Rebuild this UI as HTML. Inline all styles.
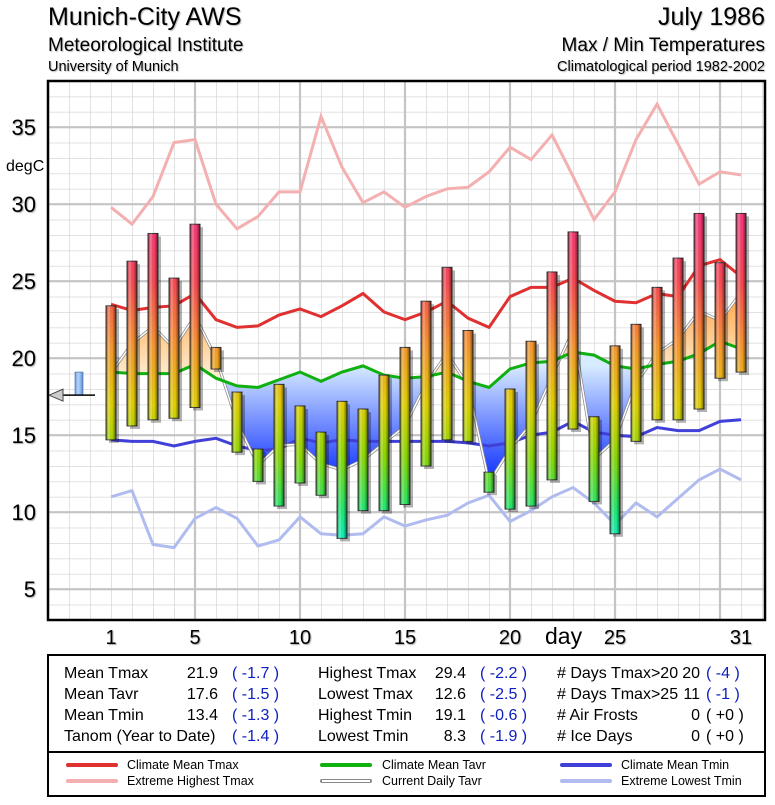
<!DOCTYPE html>
<html><head><meta charset="utf-8">
<style>
html,body{margin:0;padding:0;background:#fff;}
body{width:775px;height:800px;overflow:hidden;font-family:"Liberation Sans",sans-serif;}
svg text{font-family:"Liberation Sans",sans-serif;}
</style></head>
<body>
<svg id="chart" width="775" height="800" viewBox="0 0 775 800" xmlns="http://www.w3.org/2000/svg">
<defs>
  <linearGradient id="barGrad" gradientUnits="userSpaceOnUse" x1="0" y1="190" x2="0" y2="560">
    <stop offset="0" stop-color="#ff2f8f"/>
    <stop offset="0.25" stop-color="#ff4a55"/>
    <stop offset="0.42" stop-color="#ff9a30"/>
    <stop offset="0.58" stop-color="#e8d800"/>
    <stop offset="0.72" stop-color="#90e000"/>
    <stop offset="0.86" stop-color="#20f070"/>
    <stop offset="1" stop-color="#00ffff"/>
  </linearGradient>
  <linearGradient id="barShade" x1="0" y1="0" x2="1" y2="0">
    <stop offset="0" stop-color="#000" stop-opacity="0.45"/>
    <stop offset="0.3" stop-color="#fff" stop-opacity="0.3"/>
    <stop offset="0.6" stop-color="#000" stop-opacity="0"/>
    <stop offset="1" stop-color="#000" stop-opacity="0.55"/>
  </linearGradient>
  <linearGradient id="warmGrad" gradientUnits="userSpaceOnUse" x1="0" y1="280" x2="0" y2="380">
    <stop offset="0" stop-color="#ff9a30"/>
    <stop offset="1" stop-color="#fff0d8"/>
  </linearGradient>
  <linearGradient id="coolGrad" gradientUnits="userSpaceOnUse" x1="0" y1="365" x2="0" y2="470">
    <stop offset="0" stop-color="#d8ecff"/>
    <stop offset="1" stop-color="#1f3fff"/>
  </linearGradient>
  <linearGradient id="blueBar" x1="0" y1="0" x2="1" y2="0">
    <stop offset="0" stop-color="#6f9fe0"/>
    <stop offset="0.4" stop-color="#b8d4ff"/>
    <stop offset="1" stop-color="#5f8fd0"/>
  </linearGradient>
  <pattern id="gridPat" patternUnits="userSpaceOnUse" x="48" y="620" width="21.0018" height="15.4">
    <line x1="0" y1="0" x2="0" y2="15.4" stroke="#d8d8d8" stroke-width="1.5"/>
    <line x1="0" y1="0" x2="21.0018" y2="0" stroke="#d8d8d8" stroke-width="1.5"/>
  </pattern>
  <clipPath id="plotClip"><rect x="48" y="81" width="717" height="539"/></clipPath>
  <clipPath id="aboveClip"><polygon id="aboveClipPoly" points="111,81 111,372.1 132,373.6 153,373.6 174,373.6 195,364.4 216,378.2 237,385.9 258,387.5 279,379.8 300,372.1 321,381.3 342,372.1 363,365.9 384,375.1 405,378.2 426,376.7 447,372.1 468,381.3 489,387.5 510,369.0 531,362.8 552,361.3 573,352.0 594,355.1 615,365.9 636,369.0 657,364.4 678,361.3 699,353.6 720,341.3 741,349.0 741,81"/></clipPath>
  <clipPath id="belowClip"><polygon id="belowClipPoly" points="111,620 111,372.1 132,373.6 153,373.6 174,373.6 195,364.4 216,378.2 237,385.9 258,387.5 279,379.8 300,372.1 321,381.3 342,372.1 363,365.9 384,375.1 405,378.2 426,376.7 447,372.1 468,381.3 489,387.5 510,369.0 531,362.8 552,361.3 573,352.0 594,355.1 615,365.9 636,369.0 657,364.4 678,361.3 699,353.6 720,341.3 741,349.0 741,620"/></clipPath>
</defs>

<g style="text-shadow:1px 1px 1px #bbb">
  <text x="48" y="25" font-size="25">Munich-City AWS</text>
  <text x="48" y="51" font-size="19">Meteorological Institute</text>
  <text x="48" y="71" font-size="14.5">University of Munich</text>
  <text x="765" y="25" font-size="25" text-anchor="end">July 1986</text>
  <text x="765" y="51" font-size="19" text-anchor="end">Max / Min Temperatures</text>
  <text x="765" y="71" font-size="14.5" text-anchor="end">Climatological period 1982-2002</text>
</g>

<rect x="48" y="81" width="717" height="539" fill="#fff"/>
<g id="grid">
  <rect x="48" y="81" width="717" height="539" fill="url(#gridPat)"/>
  <g stroke="#c4c4c4" stroke-width="2.2">
    <line x1="195" y1="81" x2="195" y2="620"/><line x1="300" y1="81" x2="300" y2="620"/><line x1="405" y1="81" x2="405" y2="620"/>
    <line x1="510" y1="81" x2="510" y2="620"/><line x1="615" y1="81" x2="615" y2="620"/><line x1="720" y1="81" x2="720" y2="620"/>
    <line x1="48" y1="589.2" x2="765" y2="589.2"/><line x1="48" y1="512.2" x2="765" y2="512.2"/><line x1="48" y1="435.2" x2="765" y2="435.2"/>
    <line x1="48" y1="358.2" x2="765" y2="358.2"/><line x1="48" y1="281.2" x2="765" y2="281.2"/><line x1="48" y1="204.2" x2="765" y2="204.2"/>
    <line x1="48" y1="127.2" x2="765" y2="127.2"/>
  </g>
</g>

<g id="marks" clip-path="url(#plotClip)">
  <polygon clip-path="url(#aboveClip)" fill="url(#warmGrad)" points="111,372.8 132,343.6 153,326.7 174,348.2 195,315.9 216,358.2 237,422.1 258,465.3 279,445.2 300,444.4 321,463.7 342,469.9 363,459.9 384,442.9 405,426.0 426,383.6 447,353.6 468,386.0 489,482.2 510,449.1 531,423.7 552,376.0 573,330.5 594,459.1 615,439.9 636,382.9 657,353.6 678,339.0 699,311.3 720,320.5 741,292.8 741,349.0 720,341.3 699,353.6 678,361.3 657,364.4 636,369.0 615,365.9 594,355.1 573,352.0 552,361.3 531,362.8 510,369.0 489,387.5 468,381.3 447,372.1 426,376.7 405,378.2 384,375.1 363,365.9 342,372.1 321,381.3 300,372.1 279,379.8 258,387.5 237,385.9 216,378.2 195,364.4 174,373.6 153,373.6 132,373.6 111,372.1"/>
  <polygon clip-path="url(#belowClip)" fill="url(#coolGrad)" points="111,372.8 132,343.6 153,326.7 174,348.2 195,315.9 216,358.2 237,422.1 258,465.3 279,445.2 300,444.4 321,463.7 342,469.9 363,459.9 384,442.9 405,426.0 426,383.6 447,353.6 468,386.0 489,482.2 510,449.1 531,423.7 552,376.0 573,330.5 594,459.1 615,439.9 636,382.9 657,353.6 678,339.0 699,311.3 720,320.5 741,292.8 741,349.0 720,341.3 699,353.6 678,361.3 657,364.4 636,369.0 615,365.9 594,355.1 573,352.0 552,361.3 531,362.8 510,369.0 489,387.5 468,381.3 447,372.1 426,376.7 405,378.2 384,375.1 363,365.9 342,372.1 321,381.3 300,372.1 279,379.8 258,387.5 237,385.9 216,378.2 195,364.4 174,373.6 153,373.6 132,373.6 111,372.1"/>
  <polyline fill="none" stroke="#f4b0b0" stroke-width="3" points="111,207.3 132,224.2 153,196.5 174,142.6 195,139.5 216,204.2 237,228.8 258,216.5 279,191.9 300,191.9 321,116.4 342,167.2 363,202.7 384,191.9 405,207.3 426,196.5 447,188.8 468,187.3 489,171.9 510,147.2 531,159.5 552,134.9 573,176.5 594,219.6 615,191.9 636,139.5 657,104.1 678,144.1 699,184.2 720,171.9 741,174.9"/>
  <polyline fill="none" stroke="#b0bcf0" stroke-width="3" points="111,496.8 132,490.6 153,544.5 174,547.6 195,518.4 216,507.6 237,518.4 258,546.1 279,539.9 300,516.8 321,533.8 342,535.3 363,533.8 384,516.8 405,526.1 426,519.9 447,515.3 468,503.0 489,495.3 510,521.4 531,510.7 552,496.8 573,487.6 594,503.0 615,524.5 636,503.0 657,516.8 678,498.3 699,479.9 720,469.1 741,479.9"/>
  <polyline fill="none" stroke="#4040d8" stroke-width="3" points="111,439.8 132,441.4 153,441.4 174,446.0 195,441.4 216,438.3 237,446.0 258,450.6 279,449.1 300,438.3 321,442.9 342,439.8 363,441.4 384,441.4 405,441.4 426,441.4 447,441.4 468,442.9 489,446.0 510,442.9 531,435.2 552,432.1 573,421.3 594,432.1 615,435.2 636,436.7 657,427.5 678,430.6 699,430.6 720,421.3 741,419.8"/>
  <polyline fill="none" stroke="#888" stroke-width="3" points="111,372.8 132,343.6 153,326.7 174,348.2 195,315.9 216,358.2 237,422.1 258,465.3 279,445.2 300,444.4 321,463.7 342,469.9 363,459.9 384,442.9 405,426.0 426,383.6 447,353.6 468,386.0 489,482.2 510,449.1 531,423.7 552,376.0 573,330.5 594,459.1 615,439.9 636,382.9 657,353.6 678,339.0 699,311.3 720,320.5 741,292.8"/>
  <polyline fill="none" stroke="#fff" stroke-width="1.5" points="111,372.8 132,343.6 153,326.7 174,348.2 195,315.9 216,358.2 237,422.1 258,465.3 279,445.2 300,444.4 321,463.7 342,469.9 363,459.9 384,442.9 405,426.0 426,383.6 447,353.6 468,386.0 489,482.2 510,449.1 531,423.7 552,376.0 573,330.5 594,459.1 615,439.9 636,382.9 657,353.6 678,339.0 699,311.3 720,320.5 741,292.8"/>
  <polyline fill="none" stroke="#10b010" stroke-width="3" points="111,372.1 132,373.6 153,373.6 174,373.6 195,364.4 216,378.2 237,385.9 258,387.5 279,379.8 300,372.1 321,381.3 342,372.1 363,365.9 384,375.1 405,378.2 426,376.7 447,372.1 468,381.3 489,387.5 510,369.0 531,362.8 552,361.3 573,352.0 594,355.1 615,365.9 636,369.0 657,364.4 678,361.3 699,353.6 720,341.3 741,349.0"/>
  <polyline fill="none" stroke="#e03030" stroke-width="3" points="111,304.3 132,310.5 153,307.4 174,305.8 195,293.5 216,319.7 237,327.4 258,325.9 279,315.0 300,308.9 321,316.6 342,305.8 363,293.5 384,312.0 405,319.7 426,312.0 447,301.2 468,318.2 489,327.4 510,296.6 531,287.4 552,287.4 573,278.1 594,290.4 615,301.2 636,302.8 657,293.5 678,296.6 699,265.8 720,259.6 741,276.6"/>
  <g id="staticBars"></g>
  <rect x="75" y="372.1" width="8" height="23.1" fill="url(#blueBar)" stroke="#4060a0" stroke-width="0.6"/>
  <line x1="62" x2="95" y1="395.2" y2="395.2" stroke="#000" stroke-width="1.5"/>
  <polygon points="49,395.2 63,389.2 63,401.2" fill="#ccc" stroke="#444" stroke-width="1"/>
</g>
<rect x="48" y="81" width="717" height="539" fill="none" stroke="#000" stroke-width="2.5"/>
<g id="axes" style="text-shadow:1px 1px 1px #aaa" font-size="22">
  <text x="36" y="597.2" text-anchor="end">5</text>
  <text x="36" y="520.2" text-anchor="end">10</text>
  <text x="36" y="443.2" text-anchor="end">15</text>
  <text x="36" y="366.2" text-anchor="end">20</text>
  <text x="36" y="289.2" text-anchor="end">25</text>
  <text x="36" y="212.2" text-anchor="end">30</text>
  <text x="36" y="135.2" text-anchor="end">35</text>
  <text x="111" y="644" font-size="20" text-anchor="middle">1</text>
  <text x="195" y="644" font-size="20" text-anchor="middle">5</text>
  <text x="300" y="644" font-size="20" text-anchor="middle">10</text>
  <text x="405" y="644" font-size="20" text-anchor="middle">15</text>
  <text x="510" y="644" font-size="20" text-anchor="middle">20</text>
  <text x="615" y="644" font-size="20" text-anchor="middle">25</text>
  <text x="741" y="644" font-size="20" text-anchor="middle">31</text>
</g>
<text x="6" y="171" font-size="16">degC</text>
<text x="545" y="644" font-size="23">day</text>

<g font-size="16">
  <rect x="48" y="655" width="717" height="141" fill="#fff" stroke="#000" stroke-width="2"/>
  <line x1="48" y1="752" x2="765" y2="752" stroke="#000" stroke-width="2"/>
  <g>
    <text x="64" y="678">Mean Tmax</text><text x="218" y="678" text-anchor="end">21.9</text><text x="232" y="678" fill="#1020c0">( -1.7 )</text>
    <text x="64" y="699">Mean Tavr</text><text x="218" y="699" text-anchor="end">17.6</text><text x="232" y="699" fill="#1020c0">( -1.5 )</text>
    <text x="64" y="720">Mean Tmin</text><text x="218" y="720" text-anchor="end">13.4</text><text x="232" y="720" fill="#1020c0">( -1.3 )</text>
    <text x="64" y="741">Tanom (Year to Date)</text><text x="232" y="741" fill="#1020c0">( -1.4 )</text>
  </g>
  <g>
    <text x="318" y="678">Highest Tmax</text><text x="466" y="678" text-anchor="end">29.4</text><text x="480" y="678" fill="#1020c0">( -2.2 )</text>
    <text x="318" y="699">Lowest Tmax</text><text x="466" y="699" text-anchor="end">12.6</text><text x="480" y="699" fill="#1020c0">( -2.5 )</text>
    <text x="318" y="720">Highest Tmin</text><text x="466" y="720" text-anchor="end">19.1</text><text x="480" y="720" fill="#1020c0">( -0.6 )</text>
    <text x="318" y="741">Lowest Tmin</text><text x="466" y="741" text-anchor="end">8.3</text><text x="480" y="741" fill="#1020c0">( -1.9 )</text>
  </g>
  <g>
    <text x="557" y="678"># Days Tmax&gt;20</text><text x="700" y="678" text-anchor="end">20</text><text x="706" y="678" fill="#1020c0">( -4 )</text>
    <text x="557" y="699"># Days Tmax&gt;25</text><text x="700" y="699" text-anchor="end">11</text><text x="706" y="699" fill="#1020c0">( -1 )</text>
    <text x="557" y="720"># Air Frosts</text><text x="700" y="720" text-anchor="end">0</text><text x="706" y="720">( +0 )</text>
    <text x="557" y="741"># Ice Days</text><text x="700" y="741" text-anchor="end">0</text><text x="706" y="741">( +0 )</text>
  </g>
  <g font-size="12.5">
    <g><line x1="68" y1="765" x2="116" y2="765" stroke="#e03030" stroke-width="4" stroke-linecap="round"/><text x="127" y="769">Climate Mean Tmax</text></g>
    <g><line x1="68" y1="781" x2="116" y2="781" stroke="#f4b0b0" stroke-width="4" stroke-linecap="round"/><text x="127" y="785">Extreme Highest Tmax</text></g>
    <g><line x1="322" y1="765" x2="370" y2="765" stroke="#10b010" stroke-width="4" stroke-linecap="round"/><text x="382" y="769">Climate Mean Tavr</text></g>
    <g><line x1="322" y1="781" x2="370" y2="781" stroke="#888" stroke-width="4" stroke-linecap="round"/><line x1="322" y1="781" x2="370" y2="781" stroke="#fff" stroke-width="2"/><text x="382" y="785">Current Daily Tavr</text></g>
    <g><line x1="562" y1="765" x2="610" y2="765" stroke="#4040d8" stroke-width="4" stroke-linecap="round"/><text x="621" y="769">Climate Mean Tmin</text></g>
    <g><line x1="562" y1="781" x2="610" y2="781" stroke="#b0bcf0" stroke-width="4" stroke-linecap="round"/><text x="621" y="785">Extreme Lowest Tmin</text></g>
  </g>
</g>
</svg>

<script>
var days = [1,2,3,4,5,6,7,8,9,10,11,12,13,14,15,16,17,18,19,20,21,22,23,24,25,26,27,28,29,30,31];
var tmax = [23.4,26.3,28.1,25.2,28.7,20.7,17.8,14.1,18.3,16.9,15.2,17.2,16.7,18.9,20.7,23.7,25.9,21.8,12.6,18.0,21.1,25.6,28.2,16.2,20.8,22.2,24.6,26.5,29.4,26.2,29.4];
var tmin = [14.7,15.6,16.0,16.1,16.8,19.3,13.9,12.0,10.4,11.9,11.1,8.3,10.1,10.1,10.5,13.0,14.7,14.6,11.3,10.2,10.4,12.1,15.4,10.7,8.6,14.6,16.0,16.0,16.7,18.7,19.1];
var climMax = [23.5,23.1,23.3,23.4,24.2,22.5,22.0,22.1,22.8,23.2,22.7,23.4,24.2,23.0,22.5,23.0,23.7,22.6,22.0,24.0,24.6,24.6,25.2,24.4,23.7,23.6,24.2,24.0,26.0,26.4,25.3];
var climAvg = [19.1,19.0,19.0,19.0,19.6,18.7,18.2,18.1,18.6,19.1,18.5,19.1,19.5,18.9,18.7,18.8,19.1,18.5,18.1,19.3,19.7,19.8,20.4,20.2,19.5,19.3,19.6,19.8,20.3,21.1,20.6];
var climMin = [14.7,14.6,14.6,14.3,14.6,14.8,14.3,14.0,14.1,14.8,14.5,14.7,14.6,14.6,14.6,14.6,14.6,14.5,14.3,14.5,15.0,15.2,15.9,15.2,15.0,14.9,15.5,15.3,15.3,15.9,16.0];
var extMax = [29.8,28.7,30.5,34.0,34.2,30.0,28.4,29.2,30.8,30.8,35.7,32.4,30.1,30.8,29.8,30.5,31.0,31.1,32.1,33.7,32.9,34.5,31.8,29.0,30.8,34.2,36.5,33.9,31.3,32.1,31.9];
var extMin = [11.0,11.4,7.9,7.7,9.6,10.3,9.6,7.8,8.2,9.7,8.6,8.5,8.6,9.7,9.1,9.5,9.8,10.6,11.1,9.4,10.1,11.0,11.6,10.6,9.2,10.6,9.7,10.9,12.1,12.8,12.1];
var yTicks = [5,10,15,20,25,30,35];
var xTicks = [1,5,10,15,20,25,31];
var meanTavr = 17.6;
var climMeanTavr = 19.1;

(function(){
try {
var NS="http://www.w3.org/2000/svg";
var X0=48, X1=765, Y0=81, Y1=620, VMIN=3, VMAX=38, DMIN=-2, DMAX=32.14;
function xs(d){return X0+(d-DMIN)*(X1-X0)/(DMAX-DMIN);}
function ys(v){return Y1-(v-VMIN)*(Y1-Y0)/(VMAX-VMIN);}
function mk(tag,attrs,parent){var e=document.createElementNS(NS,tag);for(var k in attrs)e.setAttribute(k,attrs[k]);parent.appendChild(e);return e;}
function clear(el){while(el.firstChild)el.removeChild(el.firstChild);}

var axes=document.getElementById('axes');
clear(axes);
yTicks.forEach(function(v){
  var t=mk('text',{x:36,y:ys(v)+8,'text-anchor':'end'},axes);
  t.textContent=v;
  
  
});
xTicks.forEach(function(d){
  var t=mk('text',{x:xs(d),y:644,'font-size':20,'text-anchor':'middle'},axes);
  t.textContent=d;
  
  
});

var marks=document.getElementById('marks');
clear(marks);
var tavr=tmax.map(function(v,i){return (v+tmin[i])/2;});
function pts(arr){return arr.map(function(v,i){return xs(days[i])+','+ys(v);}).join(' ');}

var avgStr=pts(climAvg);
var n=days.length;
document.getElementById('aboveClipPoly').setAttribute('points',xs(days[0])+','+Y0+' '+avgStr+' '+xs(days[n-1])+','+Y0);
document.getElementById('belowClipPoly').setAttribute('points',xs(days[0])+','+Y1+' '+avgStr+' '+xs(days[n-1])+','+Y1);
var revAvg=climAvg.map(function(v,i){return xs(days[i])+','+ys(v);}).reverse().join(' ');
var fillPoly=pts(tavr)+' '+revAvg;
var warm=mk('polygon',{points:fillPoly,fill:'url(#warmGrad)','clip-path':'url(#aboveClip)'},marks);


var cool=mk('polygon',{points:fillPoly,fill:'url(#coolGrad)','clip-path':'url(#belowClip)'},marks);



function drawLine(arr,color,w,name){
  var p=mk('polyline',{points:pts(arr),fill:'none',stroke:color,'stroke-width':w},marks);
  
  
}
drawLine(extMax,'#f4b0b0',3,'extreme-highest-tmax-line');
drawLine(extMin,'#b0bcf0',3,'extreme-lowest-tmin-line');
drawLine(climMin,'#4040d8',3,'climate-mean-tmin-line');
drawLine(tavr,'#888',3,'current-daily-tavr-outline');
drawLine(tavr,'#fff',1.5,'current-daily-tavr-line');
drawLine(climAvg,'#10b010',3,'climate-mean-tavr-line');
drawLine(climMax,'#e03030',3,'climate-mean-tmax-line');

days.forEach(function(d,i){
  var x=xs(d)-5, yt=ys(tmax[i]), yb=ys(tmin[i]), h=yb-yt;
  var sh=mk('rect',{x:x+3,y:yt+3,width:10,height:h,fill:'#000',opacity:0.3},marks);
  
  
  var b=mk('rect',{x:x,y:yt,width:10,height:h,fill:'url(#barGrad)',stroke:'#333','stroke-width':1},marks);
  
  
  var o=mk('rect',{x:x,y:yt,width:10,height:h,fill:'url(#barShade)'},marks);
  
  
});

var mb=mk('rect',{x:75,y:ys(climMeanTavr),width:8,height:ys(meanTavr)-ys(climMeanTavr),fill:'url(#blueBar)',stroke:'#4060a0','stroke-width':0.6},marks);


var yy=ys(meanTavr);
var ml=mk('line',{x1:62,x2:95,y1:yy,y2:yy,stroke:'#000','stroke-width':1.5},marks);


var ar=mk('polygon',{points:'49,'+yy+' 63,'+(yy-6)+' 63,'+(yy+6),fill:'#ccc',stroke:'#444','stroke-width':1},marks);


} catch(e) {}
})();
</script>
</body></html>
